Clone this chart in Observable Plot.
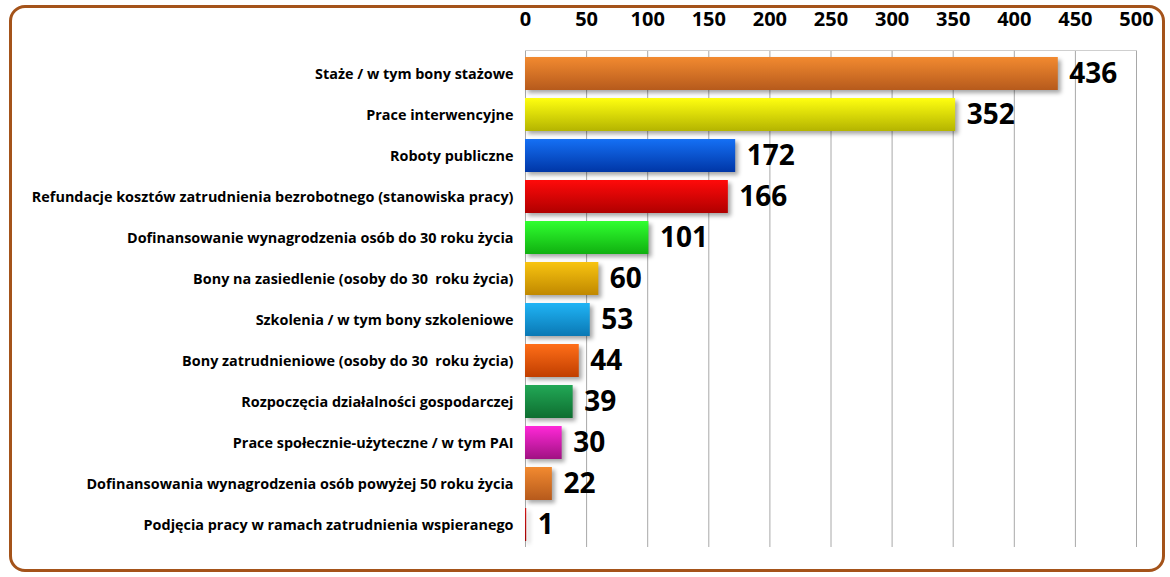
<!DOCTYPE html>
<html>
<head>
<meta charset="utf-8">
<script src="https://cdn.jsdelivr.net/npm/d3@7"></script>
<script src="https://cdn.jsdelivr.net/npm/@observablehq/plot@0.6"></script>
<style>
  html, body { margin: 0; padding: 0; background: #fff; }
  #wrap { position: relative; width: 1170px; height: 577px; overflow: hidden; }
  #wrap svg { position: absolute; left: 0; top: 0; }
  #border { position: absolute; left: 9px; top: 5px; width: 1156px; height: 567px; box-sizing: border-box;
            border: 3px solid #A4531A; border-radius: 16px; pointer-events: none; }
</style>
</head>
<body>
<div id="wrap"><div id="border"></div></div>
<script>
const categories = [
  "Staże / w tym bony stażowe",
  "Prace interwencyjne",
  "Roboty publiczne",
  "Refundacje kosztów zatrudnienia bezrobotnego (stanowiska pracy)",
  "Dofinansowanie wynagrodzenia osób do 30 roku życia",
  "Bony na zasiedlenie (osoby do 30  roku życia)",
  "Szkolenia / w tym bony szkoleniowe",
  "Bony zatrudnieniowe (osoby do 30  roku życia)",
  "Rozpoczęcia działalności gospodarczej",
  "Prace społecznie-użyteczne / w tym PAI",
  "Dofinansowania wynagrodzenia osób powyżej 50 roku życia",
  "Podjęcia pracy w ramach zatrudnienia wspieranego"
];
const values = [436, 352, 172, 166, 101, 60, 53, 44, 39, 30, 22, 1];
const xTicks = [0, 50, 100, 150, 200, 250, 300, 350, 400, 450, 500];

// styles (gradient top / bottom colours per bar)
const barTop =    ["#F28A30", "#FFFF10", "#1570F5", "#FF0A0A", "#30FF30", "#F8C410", "#20B4F5", "#FF6E18", "#22A856", "#FF28D8", "#F28A30", "#D01818"];
const barBottom = ["#B65A1C", "#B4B400", "#0036A6", "#B00000", "#10B010", "#C08800", "#0A78B4", "#C03E00", "#0E6E30", "#A01282", "#B65A1C", "#A00000"];

const data = categories.map((c, i) => ({category: c, value: values[i], fill: `url(#bargrad${i})`}));

const chart = Plot.plot({
  width: 1170,
  height: 577,
  marginLeft: 525,
  marginRight: 34,
  marginTop: 50,
  marginBottom: 30,
  x: {domain: [0, 500], axis: null},
  y: {domain: categories, paddingInner: 0.2, paddingOuter: 0.1, axis: null},
  color: {type: "identity"},
  style: {fontFamily: "'Open Sans', sans-serif", background: "transparent", color: "black"},
  marks: [
    Plot.gridX(xTicks, {stroke: "#A8A8A8", strokeOpacity: 1, strokeWidth: 1}),
    Plot.frame({anchor: "top", stroke: "#CFCFCF"}),
    Plot.barX(data, {x: "value", y: "category", fill: "fill",
      imageFilter: "drop-shadow(3px 3px 2px rgba(0,0,0,0.35))"}),
    Plot.text(data, {x: "value", y: "category", text: d => String(d.value), textAnchor: "start",
      dx: 11, fontSize: 28, fontWeight: "bold", fill: "black"}),
    Plot.axisX(xTicks, {anchor: "top", label: null, tickSize: 0, tickPadding: 25, fontSize: 20, fontWeight: "bold", fill: "black"}),
    Plot.axisY({label: null, tickSize: 0, tickPadding: 12, fontSize: 14.4, fontWeight: "bold", fill: "black"})
  ]
});

const svg = d3.select(chart);
const defs = svg.insert("defs", ":first-child");
categories.forEach((c, i) => {
  const g = defs.append("linearGradient").attr("id", `bargrad${i}`)
    .attr("x1", 0).attr("y1", 0).attr("x2", 0).attr("y2", 1);
  g.append("stop").attr("offset", "0%").attr("stop-color", barTop[i]);
  g.append("stop").attr("offset", "100%").attr("stop-color", barBottom[i]);
});

document.getElementById("wrap").insertBefore(chart, document.getElementById("border"));
</script>
</body>
</html>
